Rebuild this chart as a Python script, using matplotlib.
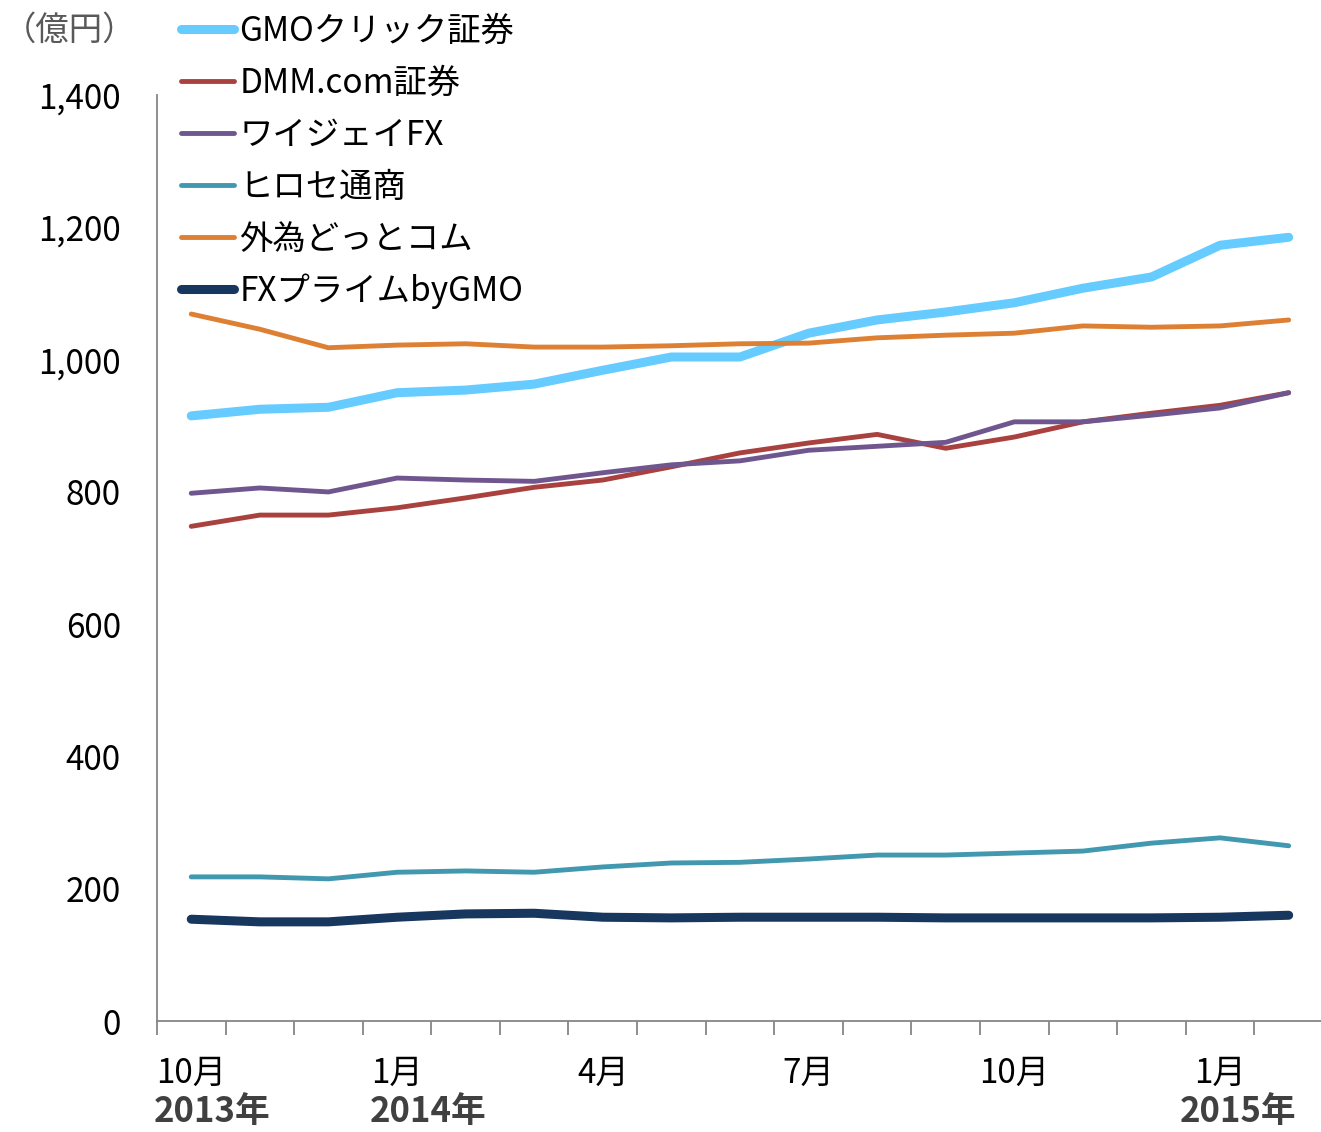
import numpy as np
import matplotlib
matplotlib.use('Agg')
import matplotlib.pyplot as plt

plt.rcParams['font.family'] = ['Noto Sans CJK JP', 'DejaVu Sans']

months = ['10月', '', '', '1月', '', '', '4月', '', '', '7月', '', '', '10月', '', '', '1月', '']
years = ['2013年', '2014年', '2015年']

gmo_click = [915, 925, 928, 950, 954, 963, 984, 1004, 1004, 1040, 1060, 1072, 1086, 1108, 1125, 1173, 1185]
dmm = [748, 765, 765, 776, 791, 807, 818, 838, 859, 874, 887, 866, 883, 906, 919, 931, 950]
ygfx = [798, 806, 800, 821, 818, 816, 829, 841, 847, 863, 869, 875, 906, 906, 916, 927, 950]
hirose = [218, 218, 215, 225, 227, 225, 233, 239, 240, 245, 251, 251, 254, 257, 269, 277, 265]
gaitame = [1069, 1046, 1018, 1022, 1024, 1019, 1019, 1021, 1024, 1025, 1033, 1037, 1040, 1051, 1049, 1051, 1060]
fxprime = [154, 150, 150, 157, 162, 163, 157, 156, 157, 157, 157, 156, 156, 156, 156, 157, 160]

names = ['GMOクリック証券', 'DMM.com証券', 'ワイジェイFX', 'ヒロセ通商', '外為どっとコム', 'FXプライムbyGMO']
colors = ['#66CCFF', '#A9413E', '#70568E', '#4198AF', '#DD8034', '#17375E']
widths = [6.5, 3.5, 3.5, 3.5, 3.5, 6.5]

fig = plt.figure(figsize=(13.21, 11.32), dpi=100)
ax = fig.add_axes([0.1188, 0.098, 0.8827, 0.818])

x = np.arange(len(months))
for vals, name, c, w in zip([gmo_click, dmm, ygfx, hirose, gaitame, fxprime], names, colors, widths):
    ax.plot(x, vals, color=c, lw=w, label=name, solid_capstyle='round', solid_joinstyle='round')

ax.set_xlim(-0.5, 16.5)
ax.set_ylim(0, 1400)
ax.set_yticks(range(0, 1401, 200))
ax.set_yticklabels([f'{v:,}' for v in range(0, 1401, 200)], fontsize=24)
ax.tick_params(axis='y', length=0, pad=26)

ax.set_xticks(x)
ax.set_xticklabels(months, fontsize=24)
ax.tick_params(axis='x', which='major', length=0, pad=25)
ax.set_xticks(np.arange(-0.5, 17, 1), minor=True)
ax.tick_params(axis='x', which='minor', length=10, width=1.3, color='#868686', direction='out')

for s in ['top', 'right']:
    ax.spines[s].set_visible(False)
for s in ['left', 'bottom']:
    ax.spines[s].set_color('#868686')
    ax.spines[s].set_linewidth(1.3)

yr = -0.098
ax.text(-0.55, yr, years[0], transform=ax.get_xaxis_transform(), ha='left', va='center',
        fontsize=25, fontweight='bold', color='#404040')
ax.text(2.61, yr, years[1], transform=ax.get_xaxis_transform(), ha='left', va='center',
        fontsize=25, fontweight='bold', color='#404040')
ax.text(15.26, yr, years[2], transform=ax.get_xaxis_transform(), ha='center', va='center',
        fontsize=25, fontweight='bold', color='#404040')

fig.text(0.002, 0.973, '（億円）', fontsize=24, color='#595959', ha='left', va='center')

leg = ax.legend(loc='upper left', bbox_to_anchor=(0.137, 0.988), bbox_transform=fig.transFigure,
                frameon=False, fontsize=24, handlelength=1.6, handletextpad=0.15,
                labelspacing=0.51, borderpad=0, borderaxespad=0)

fig.savefig('out.png', dpi=100)
